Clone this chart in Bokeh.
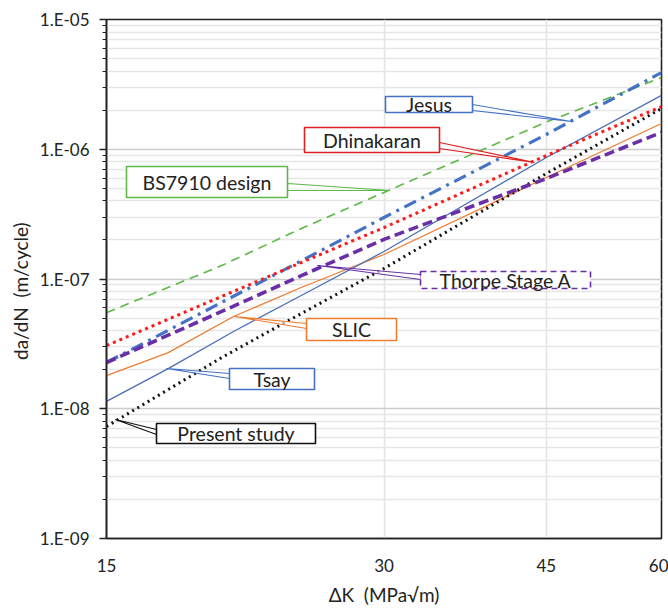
from bokeh.plotting import figure
from bokeh.models import FixedTicker, CustomJSTickFormatter, Range1d
from bokeh.core.properties import value
from bokeh.embed import file_html
from bokeh.resources import INLINE

# ---- data (ΔK in MPa√m, da/dN in m/cycle) ----
bs7910_dk = [15, 20, 24.4, 30, 45, 60]
bs7910_rate = [5.5e-8, 1.27e-7, 2.45e-7, 4.65e-7, 1.62e-6, 3.57e-6]

jesus_dk = [15, 20, 24.4, 30, 45, 60]
jesus_rate = [2.27e-8, 6.6e-8, 1.38e-7, 2.98e-7, 1.30e-6, 3.90e-6]

dhinakaran_dk = [15, 20, 24.4, 30, 45, 60]
dhinakaran_rate = [3.07e-8, 7.33e-8, 1.34e-7, 2.49e-7, 8.95e-7, 2.13e-6]

thorpe_dk = [15, 20, 24.4, 30, 45, 60]
thorpe_rate = [2.27e-8, 5.62e-8, 1.06e-7, 2.02e-7, 5.95e-7, 1.35e-6]

slic_dk = [15, 17.5, 20.6, 24.4, 30, 45, 60]
slic_rate = [1.80e-8, 2.71e-8, 5.14e-8, 8.60e-8, 1.545e-7, 6.06e-7, 1.58e-6]

tsay_dk = [15, 17.5, 20.6, 24.4, 30, 45, 60]
tsay_rate = [1.14e-8, 2.04e-8, 3.94e-8, 7.46e-8, 1.63e-7, 8.64e-7, 2.60e-6]

present_dk = [15, 20, 24.4, 30, 45, 60]
present_rate = [7.3e-9, 2.48e-8, 5.42e-8, 1.205e-7, 6.50e-7, 2.06e-6]

x_ticks = [15, 30, 45, 60]
y_ticks = [1e-9, 1e-8, 1e-7, 1e-6, 1e-5]
y_minor = [m * 10.0 ** e for e in range(-9, -5) for m in range(2, 10)]

FONT = "Lato"
NB = "\u00a0"

# ---- layout (frame placement in canvas pixels) ----
W, H = 668, 612
FL, FR, FT, FB = 106, 661, 19, 538

p = figure(width=W, height=H, x_axis_type="log", y_axis_type="log",
           x_range=Range1d(15, 60), y_range=Range1d(1e-9, 1e-5),
           output_backend="svg", toolbar_location=None,
           min_border_left=FL, min_border_right=W - FR,
           min_border_top=FT, min_border_bottom=H - FB)
p.background_fill_color = "white"
p.border_fill_color = "white"
p.outline_line_color = "#222222"
p.outline_line_width = 1.6

# axes
p.xaxis.ticker = FixedTicker(ticks=x_ticks)
p.xaxis.formatter = CustomJSTickFormatter(code="return Math.round(tick).toString();")
p.yaxis.ticker = FixedTicker(ticks=y_ticks, minor_ticks=y_minor)
p.yaxis.formatter = CustomJSTickFormatter(code="""
const e = Math.round(Math.log10(tick));
return '1.E' + (e < 0 ? '-' : '+') + String(Math.abs(e)).padStart(2, '0');
""")
for ax in (p.xaxis[0], p.yaxis[0]):
    ax.axis_line_color = "#222222"
    ax.axis_line_width = 1.6
    ax.major_label_text_font = FONT
    ax.major_label_text_font_size = "17px"
    ax.major_label_text_color = "#222222"
    ax.axis_label_text_font = FONT
    ax.axis_label_text_font_size = "19px"
    ax.axis_label_text_font_style = "normal"
    ax.axis_label_text_color = "#222222"
p.xaxis.major_tick_line_color = None
p.xaxis.minor_tick_line_color = None
p.xaxis.major_label_standoff = 14
p.xaxis.axis_label_standoff = 8
p.yaxis.major_tick_out = 7
p.yaxis.major_tick_in = 0
p.yaxis.minor_tick_out = 4
p.yaxis.minor_tick_in = 0
p.yaxis.major_tick_line_color = "#222222"
p.yaxis.minor_tick_line_color = "#222222"
p.yaxis.major_tick_line_width = 1.4
p.yaxis.minor_tick_line_width = 1.2
p.yaxis.major_label_standoff = 10
p.yaxis.axis_label_standoff = 5
p.xaxis.axis_label = "ΔK" + NB + NB + "(MPa√m)"
p.yaxis.axis_label = "da/dN" + NB + NB + "(m/cycle)" + NB * 5

# grids
p.xgrid.ticker = FixedTicker(ticks=[30, 45])
p.xgrid.grid_line_color = "#e3e3e3"
p.xgrid.grid_line_width = 1.5
p.ygrid.grid_line_color = "#cccccc"
p.ygrid.grid_line_width = 1.5
p.ygrid.minor_grid_line_color = "#e6e6e6"
p.ygrid.minor_grid_line_width = 1.5

# ---- series ----
GREEN, BLUE, RED, PURPLE, ORANGE, BLACK = "#5cb847", "#4472c4", "#ff1a1a", "#6a2fa6", "#ed7d31", "#111111"

p.line(bs7910_dk, bs7910_rate, line_color=GREEN, line_width=1.6, line_dash="9 6")
p.line(slic_dk, slic_rate, line_color=ORANGE, line_width=1.3)
p.line(tsay_dk, tsay_rate, line_color="#4a6fb8", line_width=1.3)
p.line(present_dk, present_rate, line_color=BLACK, line_width=3, line_dash="2 4")
p.line(jesus_dk, jesus_rate, line_color=BLUE, line_width=3.2, line_dash="13 6 3 6")
p.line(thorpe_dk, thorpe_rate, line_color=PURPLE, line_width=3.6, line_dash="10 5")
p.line(dhinakaran_dk, dhinakaran_rate, line_color=RED, line_width=3, line_dash="3 4")


# ---- callouts (box in canvas pixels, wedge to the curve) ----
def dx(px):
    return 15 * 4 ** ((px - FL) / (FR - FL))


def dy(py):
    return 10 ** (-5 - 4 * (py - FT) / (FB - FT))


callouts = [
    # text, color, box (l, r, t, b), wedge base (x, y1, y2), tip (x, y), dashed
    ("Jesus", BLUE, (385, 472, 96, 112), (472, 104, 110), (571, 121), False),
    ("Dhinakaran", "#e02020", (304, 439, 127, 152), (439, 142, 148), (534, 162), False),
    ("BS7910 design", GREEN, (126, 287, 166, 197), (287, 183, 190), (389, 190), False),
    ("Thorpe Stage A", PURPLE, (420, 590, 271, 288), (420, 274, 279), (317, 265), True),
    ("SLIC", ORANGE, (306, 396, 318, 340), (306, 323, 328), (234, 316), False),
    ("Tsay", BLUE, (229, 314, 368, 389), (229, 373, 378), (166, 368), False),
    ("Present study", BLACK, (156, 315, 423, 443), (156, 429, 434), (115, 419), False),
]

for text, col, (l, r, t, b), (wx, wy1, wy2), (tx, ty), dashed in callouts:
    p.patch([dx(wx), dx(tx), dx(wx)], [dy(wy1), dy(ty), dy(wy2)],
            fill_color="white", fill_alpha=0.6, line_color=col, line_width=1.1)
    p.quad(left=[dx(l)], right=[dx(r)], top=[dy(t)], bottom=[dy(b)],
           fill_color="white", line_color=col, line_width=1.6,
           line_dash="6 4" if dashed else "solid")
    p.text(x=[dx((l + r) / 2)], y=[dy((t + b) / 2)], text=[text],
           text_align="center", text_baseline="middle",
           text_font=value(FONT), text_font_size="19.5px", text_color="#222222")

open("out.html", "w").write(file_html(p, INLINE))
